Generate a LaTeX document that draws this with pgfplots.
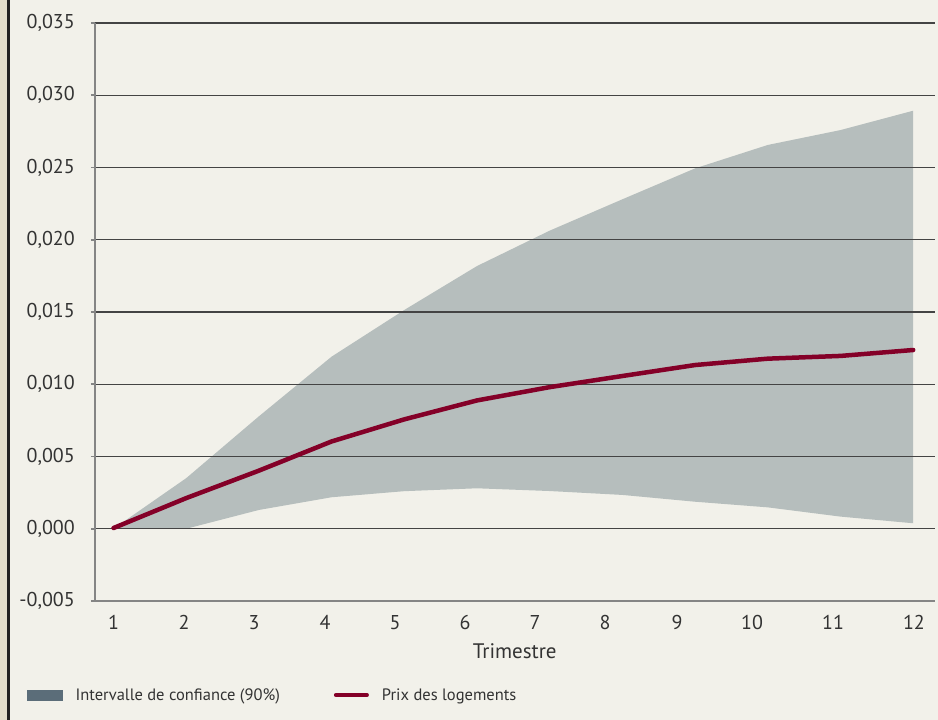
\documentclass[border=0pt]{standalone}
\usepackage{fontspec}
\setmainfont{PT Sans}
\usepackage{pgfplots}
\usepackage{pgfplotstable}
\pgfplotsset{compat=1.18}

\definecolor{bgCream}{HTML}{F2F1EA}
\definecolor{stripBeige}{HTML}{E4DCCA}
\definecolor{stripDark}{HTML}{231F20}
\definecolor{bandGray}{HTML}{B6BEBD}
\definecolor{legendSlate}{HTML}{5B6D79}
\definecolor{priceRed}{HTML}{840028}
\definecolor{gridDark}{HTML}{444444}
\definecolor{axisGray}{HTML}{858585}
\definecolor{textGray}{HTML}{333333}

\pgfplotsset{
    bandlegend/.style={legend image code/.code={
        \fill[legendSlate] (0pt,-5pt) rectangle (35pt,5pt);}},
    pricelegend/.style={legend image code/.code={
        \draw[priceRed, line width=4pt, line cap=round] (2pt,0pt) -- (33pt,0pt);}},
    frame/.style={
        at={(0,0)}, anchor=south west,
        width=839.5pt, height=578pt, scale only axis,
        xmin=0.7455, xmax=12.293,
        ymin=-0.005, ymax=0.035,
        scaled y ticks=false,
    },
}

% trimestre, borne basse, borne haute, prix des logements
\pgfplotstableread{
k   lower    upper    price
1   0.00000  0.00000  0.00005
2   0.00000  0.00350  0.00212
3   0.00130  0.00778  0.00402
4   0.00218  0.01191  0.00604
5   0.00260  0.01514  0.00757
6   0.00280  0.01818  0.00888
7   0.00261  0.02063  0.00980
8   0.00234  0.02280  0.01057
9   0.00187  0.02494  0.01133
10  0.00148  0.02656  0.01177
11  0.00084  0.02759  0.01196
12  0.00038  0.02893  0.01237
}\datatable

% band as a closed polygon: upper bound left to right, lower bound right to left
\pgfplotstableread{
k   v
1   0.00000
2   0.00350
3   0.00778
4   0.01191
5   0.01514
6   0.01818
7   0.02063
8   0.02280
9   0.02494
10  0.02656
11  0.02759
12  0.02893
12  0.00038
11  0.00084
10  0.00148
9   0.00187
8   0.00234
7   0.00261
6   0.00280
5   0.00260
4   0.00218
3   0.00130
2   0.00000
1   0.00000
}\bandtable

\begin{document}
\begin{tikzpicture}[x=1pt,y=1pt]
% page background and left strip
\fill[bgCream] (-95,-119) rectangle (843,601);
\fill[stripBeige] (-95,-119) rectangle (-88,601);
\fill[stripDark] (-88,-119) rectangle (-85,601);

% band with grid and axes drawn over it
\begin{axis}[
    frame,
    axis on top,
    axis x line*=bottom, axis y line*=left,
    axis line style={draw=axisGray, line width=1.6pt},
    ymajorgrids,
    grid style={draw=gridDark, line width=1.1pt},
    ytick={-0.005,0,0.005,0.01,0.015,0.02,0.025,0.03,0.035},
    yticklabels={{-0,005},{0,000},{0,005},{0,010},{0,015},{0,020},{0,025},{0,030},{0,035}},
    xtick={1,1.97,2.933,3.909,4.872,5.835,6.798,7.761,8.751,9.783,10.897,12.01},
    xticklabels={1,2,3,4,5,6,7,8,9,10,11,12},
    tick align=outside,
    major tick length=4pt,
    ytick style={draw=axisGray, line width=1.6pt},
    xtick style={draw=none},
    ticklabel style={font=\fontsize{20}{22}\selectfont, text=textGray, inner sep=0pt},
    yticklabel style={xshift=-16pt},
    xticklabel style={yshift=-10pt},
    xlabel={Trimestre},
    xlabel style={at={(axis description cs:0.5,0)}, anchor=north, yshift=-42pt,
        inner sep=0pt, font=\fontsize{21}{23}\selectfont, text=textGray},
]
\addplot[fill=bandGray, draw=none] table[x=k, y=v] {\bandtable} -- cycle;
\end{axis}

% price line on top of the grid, with the legend
\begin{axis}[
    frame,
    hide axis,
    legend style={at={(axis description cs:0,0)}, anchor=west,
        xshift=-68pt, yshift=-94pt,
        draw=none, fill=none, inner sep=0pt,
        font=\fontsize{16.5}{18}\selectfont, text=textGray,
        nodes={inner sep=0pt},
        /tikz/every odd column/.append style={column sep=13pt},
        /tikz/every even column/.append style={column sep=54pt}},
    legend columns=2,
    legend cell align=left,
]
\addlegendimage{bandlegend}
\addlegendentry{Intervalle de confiance (90\%)}
\addplot[priceRed, line width=4.5pt, line cap=round, line join=round, pricelegend]
    table[x=k, y=price] {\datatable};
\addlegendentry{Prix des logements}
\end{axis}
\end{tikzpicture}
\end{document}
